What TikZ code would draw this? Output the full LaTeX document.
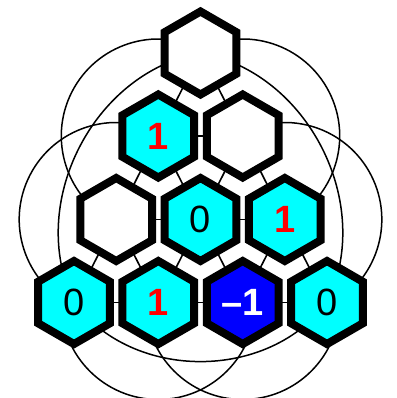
\documentclass[tikz,border=0pt]{standalone}
\usepackage{fontspec}
\setmainfont{Liberation Sans}
\usetikzlibrary{shapes.geometric}
\definecolor{hexcyan}{RGB}{0,255,255}
\definecolor{hexblue}{RGB}{0,0,255}
\definecolor{hexred}{RGB}{255,0,0}
\pgfdeclarelayer{bg}
\pgfsetlayers{bg,main}
\begin{document}
\begin{tikzpicture}[x=1pt,y=1pt,
  hexcell/.style={regular polygon, regular polygon sides=6, shape border rotate=30,
    minimum size=83pt, inner sep=0pt, draw=black, line width=8pt, line join=miter,
    font=\fontsize{38}{40}\selectfont},
  blank/.style={hexcell, fill=white},
  cyanc/.style={hexcell, fill=hexcyan},
  bluec/.style={hexcell, fill=hexblue, text=white, font=\fontsize{38}{40}\selectfont\bfseries},
  redone/.style={text=hexred, font=\fontsize{38}{40}\selectfont\bfseries},
  link/.style={line width=1.6pt},
  ring/.style={line width=1.5pt},
]
\useasboundingbox (0,0) rectangle (396,-398);
% hexagon cells
\node[blank] (t) at (200.5,-53) {};
\node[cyanc, redone] (a1) at (158.3,-136) {1};
\node[blank] (a2) at (242.7,-136) {};
\node[blank] (b1) at (116.2,-219.5) {};
\node[cyanc] (b2) at (200.5,-219.5) {0};
\node[cyanc, redone] (b3) at (284.8,-219.5) {1};
\node[cyanc] (c1) at (74,-302.5) {0};
\node[cyanc, redone] (c2) at (158.3,-302.5) {1};
\node[bluec] (c3) at (242.7,-302.5) {–1};
\node[cyanc] (c4) at (327,-302.5) {0};
% connectors behind
\begin{pgfonlayer}{bg}
\foreach \u/\v in {t/a1, t/a2, a1/a2, a1/b1, a1/b2, a2/b2, a2/b3, b1/b2, b2/b3,
    b1/c1, b1/c2, b2/c2, b2/c3, b3/c3, b3/c4, c1/c2, c2/c3, c3/c4}
  \draw[link] (\u.center) -- (\v.center);
% half circles round the side cells
\foreach \n in {a1,b1}
  \draw[ring] (\n.center) ++(63:97) arc[start angle=63, end angle=243, radius=97];
\foreach \n in {a2,b3}
  \draw[ring] (\n.center) ++(-63:97) arc[start angle=-63, end angle=117, radius=97];
\foreach \n in {c2,c3}
  \draw[ring] (\n.center) ++(180:97) arc[start angle=180, end angle=360, radius=97];
% arcs joining the corner cells
\draw[ring] (t.center) to[bend right=53] (c1.center)
                       to[bend right=53] (c4.center)
                       to[bend right=53] (t.center);
\end{pgfonlayer}
\end{tikzpicture}
\end{document}
